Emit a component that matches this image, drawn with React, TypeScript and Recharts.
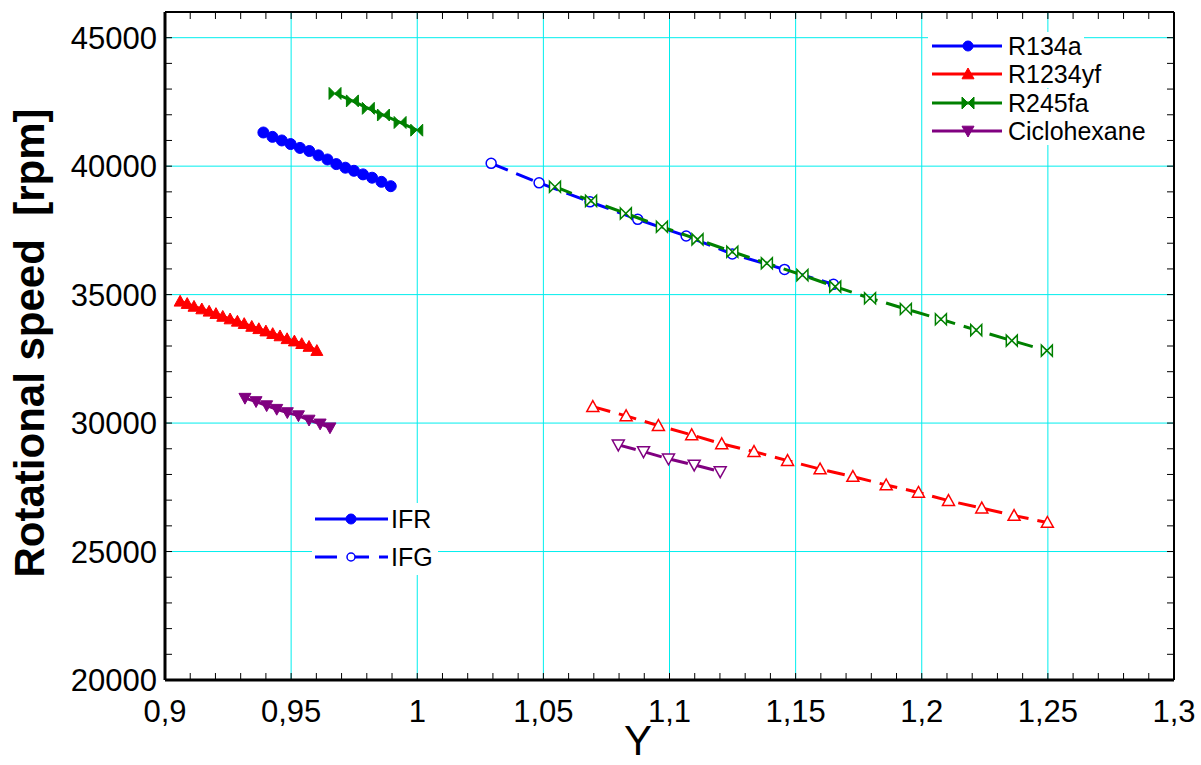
import React from "react"
import { CartesianGrid, Scatter, ScatterChart, XAxis, YAxis } from "recharts"

const W = 1201
const H = 765
const FONT = '"Liberation Sans", Arial, sans-serif'

const BLUE = "#0000ff"
const RED = "#ff0000"
const GREEN = "#008000"
const PURPLE = "#800080"
const GRID = "#00eeee"

const xTicks = [0.9, 0.95, 1, 1.05, 1.1, 1.15, 1.2, 1.25, 1.3]
const yTicks = [20000, 25000, 30000, 35000, 40000, 45000]
const xMinorTicks = Array.from({ length: 41 }, (_, i) => Math.round((0.9 + i * 0.01) * 100) / 100)
const yMinorTicks = Array.from({ length: 27 }, (_, i) => 20000 + i * 1000)

// IFR (filled markers)
const r134aIfrX = [0.939, 0.9426, 0.9463, 0.9498, 0.9535, 0.9572, 0.9608, 0.9644, 0.9679, 0.9715, 0.9749, 0.9785, 0.9821, 0.9858, 0.9895]
const r134aIfrY = [41310, 41140, 41000, 40860, 40710, 40590, 40420, 40260, 40080, 39940, 39820, 39680, 39550, 39390, 39220]

const r1234yfIfrX = [0.906, 0.9088, 0.9115, 0.9146, 0.9175, 0.9202, 0.9229, 0.9258, 0.9287, 0.9314, 0.9344, 0.9372, 0.94, 0.9427, 0.9456, 0.9484, 0.9513, 0.9542, 0.9571, 0.9602]
const r1234yfIfrY = [34740, 34650, 34540, 34440, 34350, 34260, 34150, 34050, 33960, 33870, 33760, 33670, 33580, 33480, 33390, 33280, 33190, 33090, 32980, 32820]

const r245faIfrX = [0.9674, 0.9743, 0.9806, 0.9866, 0.9932, 0.9998]
const r245faIfrY = [42830, 42540, 42250, 41990, 41700, 41400]

const cicloIfrX = [0.9317, 0.9361, 0.9403, 0.9443, 0.9485, 0.9529, 0.9571, 0.9615, 0.9654]
const cicloIfrY = [30970, 30840, 30680, 30540, 30410, 30290, 30120, 29970, 29820]

// IFG (open markers)
const r134aIfgX = [1.0293, 1.0483, 1.0685, 1.0874, 1.1066, 1.1249, 1.1456, 1.165]
const r134aIfgY = [40110, 39350, 38610, 37930, 37280, 36580, 35980, 35400]

const r245faIfgX = [1.0546, 1.0689, 1.0827, 1.097, 1.1111, 1.1249, 1.1386, 1.1527, 1.1657, 1.1795, 1.1937, 1.2076, 1.2216, 1.2357, 1.2496]
const r245faIfgY = [39200, 38650, 38160, 37640, 37150, 36670, 36220, 35760, 35310, 34860, 34440, 34040, 33620, 33210, 32820]

const r1234yfIfgX = [1.0696, 1.0828, 1.0956, 1.1088, 1.1207, 1.1335, 1.1468, 1.1597, 1.1727, 1.1859, 1.1987, 1.2106, 1.2238, 1.2366, 1.2498]
const r1234yfIfgY = [30640, 30280, 29900, 29540, 29190, 28890, 28540, 28210, 27920, 27590, 27300, 26980, 26690, 26400, 26130]

const cicloIfgX = [1.0797, 1.0897, 1.0996, 1.1098, 1.1201]
const cicloIfgY = [29150, 28890, 28610, 28370, 28110]

const legendFluids = ["R134a", "R1234yf", "R245fa", "Ciclohexane"]
const legendTypes = ["IFR", "IFG"]

const zip = (xs: number[], ys: number[]) => xs.map((x, i) => ({ x, y: ys[i] }))

type Pt = { cx?: number; cy?: number }
type Marker = "circle" | "up" | "down" | "bowtie"

function drawMarker(kind: Marker, cx: number, cy: number, color: string, filled: boolean, s: number) {
  const fill = filled ? color : "#fff"
  const sw = filled ? 1 : 1.5
  if (kind === "circle") return <circle cx={cx} cy={cy} r={s} fill={fill} stroke={color} strokeWidth={sw} />
  if (kind === "up")
    return (
      <polygon
        points={`${cx},${cy - s} ${cx + s},${cy + s * 0.8} ${cx - s},${cy + s * 0.8}`}
        fill={fill}
        stroke={color}
        strokeWidth={sw}
      />
    )
  if (kind === "down")
    return (
      <polygon
        points={`${cx},${cy + s} ${cx + s},${cy - s * 0.8} ${cx - s},${cy - s * 0.8}`}
        fill={fill}
        stroke={color}
        strokeWidth={sw}
      />
    )
  return (
    <polygon
      points={`${cx - s},${cy - s} ${cx + s},${cy + s} ${cx + s},${cy - s} ${cx - s},${cy + s}`}
      fill={fill}
      stroke={color}
      strokeWidth={sw}
    />
  )
}

const shape = (kind: Marker, color: string, filled: boolean, s: number) => (p: Pt) =>
  drawMarker(kind, p.cx ?? 0, p.cy ?? 0, color, filled, s)

const DASH = "18 9"

function Legends() {
  const colors = [BLUE, RED, GREEN, PURPLE]
  const kinds: Marker[] = ["circle", "up", "bowtie", "down"]
  const rowY = [46, 74, 103, 131]
  const rectW = [156, 175, 163, 220]
  return (
    <svg width={W} height={H} style={{ position: "absolute", left: 0, top: 0, pointerEvents: "none" }}>
      {legendFluids.map((name, i) => (
        <g key={name}>
          <rect x={928} y={rowY[i] - 14} width={rectW[i]} height={28} fill="#fff" />
          <line x1={932} x2={1002} y1={rowY[i]} y2={rowY[i]} stroke={colors[i]} strokeWidth={3} />
          {drawMarker(kinds[i], 968, rowY[i], colors[i], true, i === 0 ? 5 : 6)}
          <text x={1008} y={rowY[i] + 9} fontSize={25} fontFamily={FONT} fill="#000">
            {name}
          </text>
        </g>
      ))}
      <rect x={312} y={503} width={126} height={72} fill="#fff" />
      {legendTypes.map((name, i) => {
        const y = i === 0 ? 519 : 557
        return (
          <g key={name}>
            <line
              x1={315}
              x2={388}
              y1={y}
              y2={y}
              stroke={BLUE}
              strokeWidth={3}
              strokeDasharray={i === 0 ? undefined : "22 10"}
            />
            {drawMarker("circle", 351, y, BLUE, i === 0, i === 0 ? 5 : 4)}
            <text x={391} y={y + 9} fontSize={25} fontFamily={FONT} fill="#000">
              {name}
            </text>
          </g>
        )
      })}
    </svg>
  )
}

const frameLine = { stroke: "#000", strokeWidth: 2 }
const TICK_LEN = 7

type TickProps = { x?: number; y?: number; payload?: { value: number } }

// bottom axis: inward minor tick + label on the 0.05 steps
function BottomTick({ x = 0, y = 0, payload }: TickProps) {
  const v = payload ? payload.value : 0
  const major = Math.round(v * 100) % 5 === 0
  return (
    <g>
      <line x1={x} x2={x} y1={y - 20} y2={y - 20 - TICK_LEN} stroke="#000" strokeWidth={1} />
      {major && (
        <text x={x} y={y} dy="0.71em" textAnchor="middle" fontSize={31} fontFamily={FONT} fill="#000">
          {String(v).replace(".", ",")}
        </text>
      )}
    </g>
  )
}

function LeftTick({ x = 0, y = 0, payload }: TickProps) {
  const v = payload ? payload.value : 0
  return (
    <g>
      <line x1={x + 8} x2={x + 8 + TICK_LEN} y1={y} y2={y} stroke="#000" strokeWidth={1} />
      {v % 5000 === 0 && (
        <text x={x} y={y} dy="0.355em" textAnchor="end" fontSize={31} fontFamily={FONT} fill="#000">
          {String(v)}
        </text>
      )}
    </g>
  )
}

function TopTick({ x = 0, y = 0 }: TickProps) {
  return <line x1={x} x2={x} y1={y} y2={y + TICK_LEN} stroke="#000" strokeWidth={1} />
}

function RightTick({ x = 0, y = 0 }: TickProps) {
  return <line x1={x} x2={x - TICK_LEN} y1={y} y2={y} stroke="#000" strokeWidth={1} />
}

export default function App() {
  return (
    <div style={{ position: "absolute", left: 0, top: 0, width: W, height: H, background: "#fff" }}>
      <ScatterChart width={W} height={H} margin={{ top: 0, right: 0, bottom: 0, left: 0 }}>
        <CartesianGrid stroke={GRID} strokeWidth={1} verticalValues={xTicks} horizontalValues={yTicks} />
        <XAxis
          dataKey="x"
          type="number"
          domain={[0.9, 1.3]}
          ticks={xMinorTicks}
          allowDataOverflow
          interval={0}
          height={85}
          tickLine={false}
          tickSize={0}
          tickMargin={20}
          axisLine={{ stroke: "#000", strokeWidth: 3 }}
          tick={BottomTick}
          label={{
            content: () => (
              <text x={638} y={755} textAnchor="middle" fontSize={42} fontFamily={FONT} fill="#000">
                Y
              </text>
            ),
          }}
        />
        <XAxis
          xAxisId="top"
          dataKey="x"
          type="number"
          domain={[0.9, 1.3]}
          ticks={xMinorTicks}
          allowDataOverflow
          interval={0}
          orientation="top"
          height={12}
          tickLine={false}
          tickSize={0}
          tickMargin={0}
          tick={TopTick}
          axisLine={frameLine}
        />
        <YAxis
          dataKey="y"
          type="number"
          domain={[20000, 46000]}
          ticks={yMinorTicks}
          allowDataOverflow
          interval={0}
          width={165}
          tickLine={false}
          tickSize={0}
          tickMargin={8}
          axisLine={{ stroke: "#000", strokeWidth: 3 }}
          tick={LeftTick}
          label={{
            content: () => (
              <text
                x={44}
                y={343}
                transform="rotate(-90 44 343)"
                textAnchor="middle"
                fontSize={42}
                fontWeight="bold"
                fontFamily={FONT}
                fill="#000"
                style={{ whiteSpace: "pre" }}
              >
                {"Rotational speed  [rpm]"}
              </text>
            ),
          }}
        />
        <YAxis
          yAxisId="right"
          dataKey="y"
          type="number"
          domain={[20000, 46000]}
          ticks={yMinorTicks}
          allowDataOverflow
          interval={0}
          orientation="right"
          width={27}
          tickLine={false}
          tickSize={0}
          tickMargin={0}
          tick={RightTick}
          axisLine={frameLine}
        />

        {/* empty series that keeps the frame axes (top / right) in use */}
        <Scatter data={[]} xAxisId="top" yAxisId="right" isAnimationActive={false} />

        <Scatter
          data={zip(r134aIfrX, r134aIfrY)}
          fill={BLUE}
          line={{ stroke: BLUE, strokeWidth: 3 }}
          lineType="joint"
          shape={shape("circle", BLUE, true, 5.5)}
          isAnimationActive={false}
        />
        <Scatter
          data={zip(r1234yfIfrX, r1234yfIfrY)}
          fill={RED}
          line={{ stroke: RED, strokeWidth: 3 }}
          lineType="joint"
          shape={shape("up", RED, true, 6)}
          isAnimationActive={false}
        />
        <Scatter
          data={zip(r245faIfrX, r245faIfrY)}
          fill={GREEN}
          line={{ stroke: GREEN, strokeWidth: 3 }}
          lineType="joint"
          shape={shape("bowtie", GREEN, true, 6)}
          isAnimationActive={false}
        />
        <Scatter
          data={zip(cicloIfrX, cicloIfrY)}
          fill={PURPLE}
          line={{ stroke: PURPLE, strokeWidth: 3 }}
          lineType="joint"
          shape={shape("down", PURPLE, true, 6)}
          isAnimationActive={false}
        />

        <Scatter
          data={zip(r134aIfgX, r134aIfgY)}
          fill={BLUE}
          line={{ stroke: BLUE, strokeWidth: 3, strokeDasharray: DASH }}
          lineType="joint"
          shape={shape("circle", BLUE, false, 5)}
          isAnimationActive={false}
        />
        <Scatter
          data={zip(r245faIfgX, r245faIfgY)}
          fill={GREEN}
          line={{ stroke: GREEN, strokeWidth: 3, strokeDasharray: DASH }}
          lineType="joint"
          shape={shape("bowtie", GREEN, false, 5.5)}
          isAnimationActive={false}
        />
        <Scatter
          data={zip(r1234yfIfgX, r1234yfIfgY)}
          fill={RED}
          line={{ stroke: RED, strokeWidth: 3, strokeDasharray: DASH }}
          lineType="joint"
          shape={shape("up", RED, false, 6)}
          isAnimationActive={false}
        />
        <Scatter
          data={zip(cicloIfgX, cicloIfgY)}
          fill={PURPLE}
          line={{ stroke: PURPLE, strokeWidth: 3, strokeDasharray: DASH }}
          lineType="joint"
          shape={shape("down", PURPLE, false, 6)}
          isAnimationActive={false}
        />
      </ScatterChart>
      <Legends />
    </div>
  )
}
